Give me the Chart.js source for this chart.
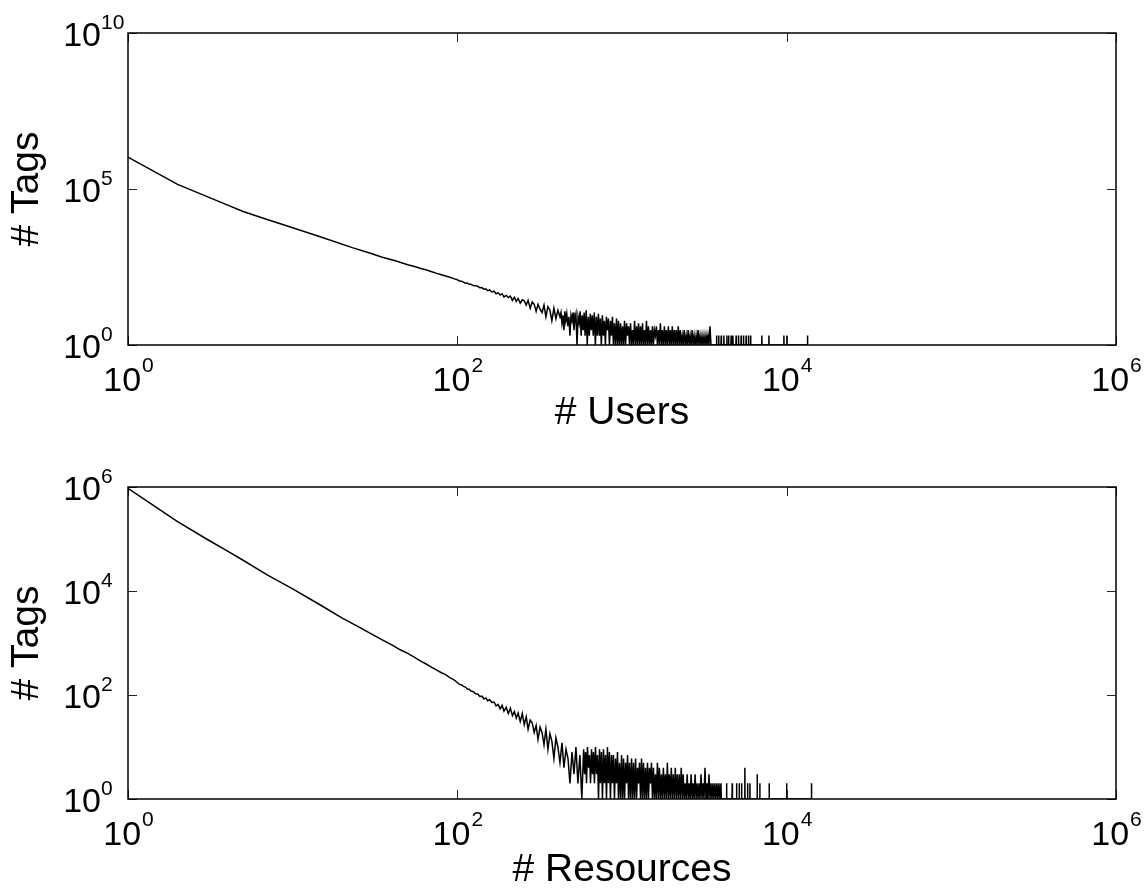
<!DOCTYPE html>
<html>
<head>
<meta charset="utf-8">
<script src="https://cdn.jsdelivr.net/npm/chart.js@4"></script>
<style>
  body { margin: 0; background: #fff; }
  canvas { display: block; }
</style>
</head>
<body>
<canvas id="usersCanvas" width="1148" height="440"></canvas>
<canvas id="resourcesCanvas" width="1148" height="450"></canvas>
<script>
// tick values (decades)
const xTicks = [1, 1e2, 1e4, 1e6];
const usersYTicks = [1, 1e5, 1e10];
const resourcesYTicks = [1, 1e2, 1e4, 1e6];

// # Tags per # Users -- smooth head, then growing noise
const usersHeadX = [
  1, 2, 3, 4, 5, 7, 10, 15, 23, 30,
  35, 42, 50, 55, 60, 65, 70, 75, 80, 85,
  90, 95,
  100, 103, 106, 109, 112, 115, 118, 121, 125, 129,
  133, 137, 141, 145, 149, 153, 157, 162, 167, 172,
  177, 182, 187, 192, 198, 204, 210, 216, 222, 228,
  234, 241, 248, 255, 262, 269, 277, 285, 293, 301,
  309, 318, 327, 336, 345, 355, 365, 375, 386, 397,
  408
];
const usersHeadTags = [
  1040000, 140000, 58000, 31000, 19000, 10500, 5700, 2850, 1320, 860,
  650, 500, 372, 326, 284, 252, 222, 198, 178, 162,
  148, 134,
  124, 112, 110, 104, 96, 97, 88, 89, 80, 79,
  76, 68, 69, 61, 63, 55, 58, 50, 53, 44,
  47, 40, 44, 35, 39, 33, 37, 27, 34, 25,
  31, 22, 28, 26, 19, 27, 15, 24, 20, 12,
  20, 14, 11, 19, 8, 17, 13, 6, 15, 7,
  13
];
// dense noisy part
const usersDenseX = [
  420, 426, 432, 438, 444, 450, 456, 462, 469, 476,
  483, 490, 497, 504, 511, 518, 525, 533, 541, 549,
  557, 565, 573, 581, 589, 597, 606, 615, 624, 633,
  642, 651, 660, 669, 679, 689, 699, 709, 719, 729,
  739, 749, 760, 771, 782, 793, 804, 815, 827, 839,
  851, 863, 875, 887, 900, 913, 926, 939, 952, 966,
  980, 994, 1008, 1022, 1036, 1051, 1066, 1081, 1096, 1111,
  1127, 1143, 1159, 1175, 1192, 1209, 1226, 1243, 1260, 1278,
  1296, 1314, 1332, 1351, 1370, 1389, 1408, 1428, 1448, 1468,
  1489, 1510, 1531, 1552, 1574, 1596, 1618, 1641, 1664, 1687,
  1711, 1735, 1759, 1784, 1809, 1834, 1860, 1886, 1912, 1939,
  1966, 1993, 2021, 2049, 2078, 2107, 2136, 2166, 2196, 2227,
  2258, 2289, 2321, 2353, 2386, 2419, 2453, 2487, 2522, 2557,
  2593, 2629, 2666, 2703, 2741, 2779, 2818, 2857, 2897, 2937,
  2978, 3020, 3062, 3105, 3148, 3192, 3237, 3282, 3328, 3375,
  3422, 3470
];
const usersDenseTags = [
  8, 11, 5, 9, 3, 12, 6, 10, 4, 8,
  2, 9, 6, 11, 3, 7, 10, 1, 8, 5,
  12, 2, 9, 3, 11, 2, 13, 1, 8, 2,
  10, 3, 9, 2, 11, 1, 8, 2, 10, 2,
  7, 1, 9, 2, 6, 1, 8, 3, 7, 1,
  6, 2, 8, 1, 5, 1, 7, 1, 6, 1,
  5, 1, 4, 1, 6, 1, 5, 2, 4, 1,
  5, 1, 3, 1, 6, 1, 4, 1, 5, 1,
  4, 1, 5, 1, 3, 1, 6, 1, 4, 1,
  3, 1, 4, 1, 3, 2, 4, 1, 3, 1,
  5, 1, 3, 1, 4, 1, 3, 1, 4, 1,
  3, 1, 4, 1, 3, 1, 3, 1, 4, 1,
  3, 1, 2, 1, 3, 1, 2, 1, 3, 1,
  2, 1, 3, 1, 2, 1, 2, 1, 3, 1,
  2, 1, 2, 1, 2, 1, 2, 1, 2, 1,
  4, 1
];
// sparse spikes in the tail
const usersTailX = [
  3740, 3752, 3764, 3850, 3864, 3878, 3990, 4003, 4016, 4140,
  4155, 4170, 4320, 4335, 4350, 4425, 4440, 4455, 4588, 4603,
  4618, 4698, 4713, 4728, 4918, 4934, 4950, 5085, 5100, 5115,
  5276, 5292, 5308, 5454, 5470, 5486, 5660, 5677, 5694, 5852,
  5870, 5888, 6022, 6040, 6058, 7043, 7063, 7083, 7780, 7800,
  7820, 9590, 9617, 9640, 10000, 10020, 10040, 13350, 13400
];
const usersTailTags = [
  1, 2, 1, 1, 2, 1, 1, 2, 1, 1,
  2, 1, 1, 2, 1, 1, 2, 1, 1, 2,
  1, 1, 2, 1, 1, 2, 1, 1, 2, 1,
  1, 2, 1, 1, 2, 1, 1, 2, 1, 1,
  2, 1, 1, 2, 1, 1, 2, 1, 1, 2,
  1, 1, 2, 1, 1, 2, 1, 1, 2
];

// # Tags per # Resources
const resourcesHeadX = [
  1, 2, 3, 4, 5, 7, 10, 15, 20, 25,
  30, 35, 40, 45, 50, 55, 60, 65, 70, 75,
  80, 85, 90, 95,
  100, 103, 106, 109, 112, 115, 118, 121, 125, 129,
  133, 137, 141, 145, 149, 153, 157, 162, 167, 172,
  177, 182, 187, 192, 198, 204, 210, 216, 222, 228,
  234, 241, 248, 255, 262, 269, 277, 285, 293, 301,
  309, 318, 327, 336, 345, 355, 365, 375, 386, 397,
  408, 420, 432, 444, 457, 470, 483, 497, 511, 525,
  540, 555, 570
];
const resourcesHeadTags = [
  940000, 215000, 100000, 59000, 39000, 20500, 11000, 5200, 3000, 2060,
  1500, 1150, 920, 740, 630, 530, 450, 390, 340, 300,
  268, 246, 216, 198,
  174, 160, 158, 146, 142, 130, 129, 119, 116, 106,
  105, 94, 95, 84, 88, 77, 82, 72, 73, 62,
  66, 54, 63, 49, 58, 44, 56, 40, 48, 36,
  45, 31, 44, 27, 38, 22, 33, 29, 19, 26,
  14, 24, 19, 11, 22, 9, 18, 13, 6, 15,
  10, 5, 12, 4, 9, 6, 2, 8, 3, 10,
  2, 7, 1
];
const resourcesDenseX = [
  585, 593, 601, 609, 617, 626, 635, 644, 653, 662,
  671, 680, 690, 700, 710, 720, 730, 740, 750, 761,
  772, 783, 794, 805, 816, 827, 839, 851, 863, 875,
  887, 900, 913, 926, 939, 952, 966, 980, 994, 1008,
  1022, 1036, 1051, 1066, 1081, 1096, 1111, 1127, 1143, 1159,
  1175, 1192, 1209, 1226, 1243, 1260, 1278, 1296, 1314, 1332,
  1351, 1370, 1389, 1408, 1428, 1448, 1468, 1489, 1510, 1531,
  1552, 1574, 1596, 1618, 1641, 1664, 1687, 1711, 1735, 1759,
  1784, 1809, 1834, 1860, 1886, 1912, 1939, 1966, 1993, 2021,
  2049, 2078, 2107, 2136, 2166, 2196, 2227, 2258, 2289, 2321,
  2353, 2386, 2419, 2453, 2487, 2522, 2557, 2593, 2629, 2666,
  2703, 2741, 2779, 2818, 2857, 2897, 2937, 2978, 3020, 3062,
  3105, 3148, 3192, 3237, 3282, 3328, 3375, 3422, 3470, 3519,
  3568, 3618, 3669, 3720, 3772, 3825, 3879, 3933, 3988
];
const resourcesDenseTags = [
  9, 3, 8, 2, 10, 4, 7, 2, 9, 3,
  8, 2, 10, 3, 7, 1, 9, 2, 8, 1,
  9, 2, 7, 1, 10, 2, 8, 1, 7, 2,
  7, 1, 6, 2, 8, 1, 5, 1, 7, 1,
  6, 1, 5, 2, 7, 1, 5, 1, 6, 1,
  5, 1, 6, 1, 4, 2, 5, 1, 6, 1,
  5, 1, 4, 1, 5, 1, 4, 2, 5, 1,
  4, 1, 3, 1, 5, 1, 4, 1, 3, 1,
  4, 1, 3, 1, 5, 1, 3, 1, 4, 1,
  3, 1, 4, 1, 3, 1, 3, 1, 4, 1,
  3, 1, 2, 1, 3, 1, 2, 1, 3, 1,
  2, 1, 3, 1, 2, 1, 2, 1, 3, 1,
  2, 1, 4, 1, 2, 1, 3, 1, 2, 1,
  2, 1, 2, 1, 2, 1, 2, 1, 2
];
const resourcesTailX = [
  4010, 4300, 4315, 4330, 4655, 4670, 4685, 4948, 4963, 4978,
  5135, 5150, 5165, 5310, 5325, 5340, 5557, 5572, 5587, 5775,
  5790, 5805, 5965, 5980, 5995, 6605, 6620, 6635, 6855, 6870,
  6885, 7815, 7830, 7845, 9980, 10000, 10020, 14130, 14160
];
const resourcesTailTags = [
  1, 1, 2, 1, 1, 2, 1, 1, 2, 1,
  1, 2, 1, 1, 2, 1, 1, 4, 1, 1,
  2, 1, 1, 2, 1, 1, 3, 1, 1, 2,
  1, 1, 2, 1, 1, 2, 1, 1, 2
];

const FONT = '"Liberation Sans", Arial, Helvetica, sans-serif';
Chart.defaults.font.family = FONT;
Chart.defaults.color = '#000';

function toPoints(xs, ys) {
  return xs.map((x, i) => ({ x: x, y: ys[i] }));
}

// frame, inward tick marks and 10^n labels
const matlabAxes = {
  id: 'matlabAxes',
  afterDraw(chart) {
    const { ctx, chartArea: a, scales: { x, y } } = chart;
    ctx.save();
    ctx.strokeStyle = '#222';
    ctx.lineWidth = 1;
    ctx.beginPath();
    x.ticks.forEach(t => {
      const px = Math.round(x.getPixelForValue(t.value)) + 0.5;
      ctx.moveTo(px, a.bottom); ctx.lineTo(px, a.bottom - 9);
      ctx.moveTo(px, a.top); ctx.lineTo(px, a.top + 9);
    });
    y.ticks.forEach(t => {
      const py = Math.round(y.getPixelForValue(t.value)) + 0.5;
      ctx.moveTo(a.left, py); ctx.lineTo(a.left + 9, py);
      ctx.moveTo(a.right, py); ctx.lineTo(a.right - 9, py);
    });
    ctx.stroke();

    ctx.strokeStyle = '#000';
    ctx.lineWidth = 1.5;
    ctx.strokeRect(a.left, a.top, a.right - a.left, a.bottom - a.top);

    const big = '34px ' + FONT;
    const small = '21px ' + FONT;
    ctx.fillStyle = '#000';
    ctx.textBaseline = 'alphabetic';
    x.ticks.forEach(t => {
      const px = x.getPixelForValue(t.value);
      const e = String(Math.round(Math.log10(t.value)));
      ctx.font = big; const w1 = ctx.measureText('10').width;
      ctx.font = small; const w2 = ctx.measureText(e).width;
      const left = px - (w1 + w2) / 2;
      ctx.textAlign = 'left';
      ctx.font = big; ctx.fillText('10', left, a.bottom + 46);
      ctx.font = small; ctx.fillText(e, left + w1 + 1, a.bottom + 27);
    });
    y.ticks.forEach(t => {
      const py = y.getPixelForValue(t.value);
      const e = String(Math.round(Math.log10(t.value)));
      ctx.font = big; ctx.textAlign = 'right';
      ctx.fillText('10', a.left - 27, py + 13);
      ctx.font = small; ctx.textAlign = 'left';
      ctx.fillText(e, a.left - 27, py - 4);
    });
    ctx.restore();
  }
};

function makeChart(canvas, points, yTicks, xTitle, padTop, xHeight, xTitlePad) {
  return new Chart(canvas, {
    type: 'line',
    data: {
      datasets: [{
        data: points,
        borderColor: '#000',
        borderWidth: 1.5,
        pointRadius: 0,
        tension: 0,
        fill: false
      }]
    },
    options: {
      responsive: false,
      animation: false,
      events: [],
      layout: { padding: { top: padTop, right: 32, left: 0, bottom: 0 } },
      plugins: { legend: { display: false }, tooltip: { enabled: false } },
      scales: {
        x: {
          type: 'logarithmic',
          min: xTicks[0],
          max: xTicks[xTicks.length - 1],
          grid: { display: false },
          border: { display: false },
          ticks: { display: false },
          afterBuildTicks: s => { s.ticks = xTicks.map(v => ({ value: v })); },
          afterFit: s => { s.height = xHeight; },
          title: {
            display: true, text: xTitle, color: '#000',
            font: { size: 39, lineHeight: 1 },
            padding: { top: 0, bottom: xTitlePad }
          }
        },
        y: {
          type: 'logarithmic',
          min: yTicks[0],
          max: yTicks[yTicks.length - 1],
          grid: { display: false },
          border: { display: false },
          ticks: { display: false },
          afterBuildTicks: s => { s.ticks = yTicks.map(v => ({ value: v })); },
          afterFit: s => { s.width = 128; },
          title: {
            display: true, text: '# Tags', color: '#000',
            font: { size: 39, lineHeight: 1 },
            padding: { top: 8, bottom: 0 }
          }
        }
      }
    },
    plugins: [matlabAxes]
  });
}

const usersPoints = toPoints(
  usersHeadX.concat(usersDenseX, usersTailX),
  usersHeadTags.concat(usersDenseTags, usersTailTags)
);
const resourcesPoints = toPoints(
  resourcesHeadX.concat(resourcesDenseX, resourcesTailX),
  resourcesHeadTags.concat(resourcesDenseTags, resourcesTailTags)
);

const usersChart = makeChart(document.getElementById('usersCanvas'),
  usersPoints, usersYTicks, '# Users', 33, 95, 7.5);
const resourcesChart = makeChart(document.getElementById('resourcesCanvas'),
  resourcesPoints, resourcesYTicks, '# Resources', 47, 91, 0.5);
</script>
</body>
</html>
